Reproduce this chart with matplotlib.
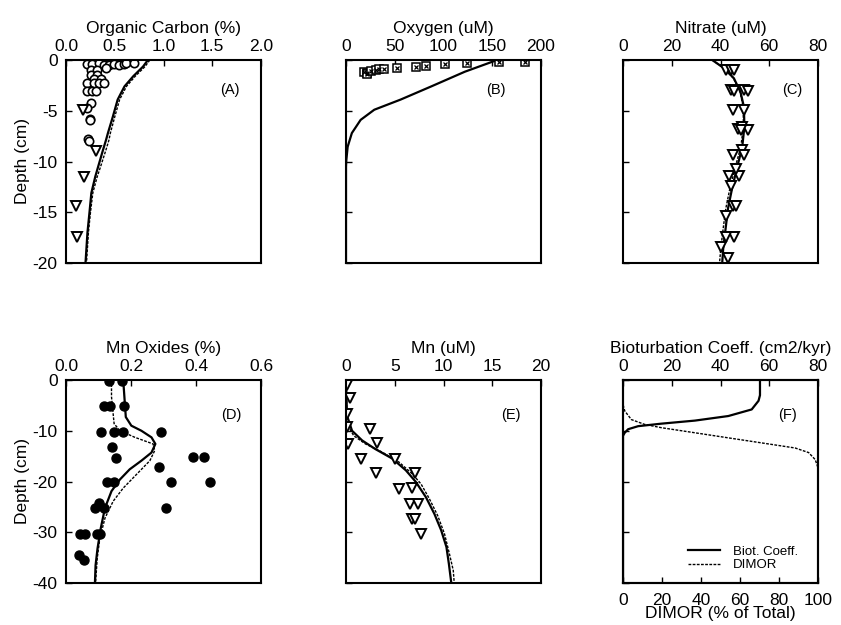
import matplotlib
matplotlib.use("Agg")
import matplotlib.pyplot as plt
import numpy as np

plt.rcParams['font.family'] = ['Liberation Sans', 'DejaVu Sans']
plt.rcParams['axes.unicode_minus'] = False

# ---------------- Data ----------------
# (A) Organic carbon (%)
oc_circ_x = [0.22, 0.27, 0.34, 0.39, 0.44, 0.49, 0.54, 0.59, 0.62, 0.70,
             0.255, 0.32, 0.41, 0.255, 0.32, 0.29, 0.36, 0.22, 0.29, 0.34, 0.39,
             0.22, 0.27, 0.31, 0.255, 0.22, 0.245, 0.245, 0.23, 0.24]
oc_circ_y = [-0.4, -0.4, -0.3, -0.46, -0.46, -0.4, -0.46, -0.4, -0.3, -0.3,
             -0.95, -0.95, -0.8, -1.45, -1.45, -1.9, -1.9, -2.25, -2.25, -2.25, -2.25,
             -3.1, -3.1, -3.1, -4.2, -4.7, -5.8, -5.95, -7.8, -8.0]
oc_tri_x = [0.17, 0.31, 0.18, 0.10, 0.115]
oc_tri_y = [-4.9, -9.0, -11.5, -14.4, -17.4]
oc_sol_x = [0.84, 0.79, 0.69, 0.60, 0.53, 0.48, 0.43, 0.41, 0.38, 0.33, 0.30, 0.26, 0.24, 0.22, 0.20]
oc_sol_y = [0.0, -0.65, -1.6, -2.6, -3.9, -5.6, -7.2, -7.9, -8.85, -10.5, -11.5, -13.1, -15.1, -17.0, -20.0]
oc_das_x = [0.86, 0.81, 0.71, 0.62, 0.55, 0.50, 0.455, 0.44, 0.41, 0.355, 0.32, 0.275, 0.25, 0.23, 0.21]
oc_das_y = oc_sol_y

# (B) Oxygen (uM)
ox_pts_x = [18, 22, 22, 25.3, 30.4, 34, 39, 52, 72, 82, 102, 124, 157, 184]
ox_pts_y = [-1.15, -1.25, -1.4, -1.05, -1.0, -0.9, -0.9, -0.8, -0.65, -0.6, -0.4, -0.33, -0.23, -0.16]
ox_line_x = [155, 122, 87.5, 56, 29, 15, 6, 1.7, 0.3, 0.0, 0.0]
ox_line_y = [0.0, -1.15, -2.6, -3.9, -4.9, -5.9, -7.2, -8.55, -9.9, -10.5, -20.0]

# (C) Nitrate (uM)
no3_pts_x = [42.2, 44.3, 45.6, 44.3, 45.6, 49.7, 51.1, 45.0, 49.7, 47.0, 49.0, 51.1, 48.4,
             45.0, 49.0, 49.7, 43.6, 47.7, 46.3, 44.3, 45.0, 46.3, 42.2, 45.6, 42.2, 40.2, 42.9]
no3_pts_y = [-0.96, -0.96, -0.96, -2.95, -3.1, -2.95, -3.1, -4.95, -4.95, -6.8, -6.6, -6.9, -6.9,
             -9.4, -8.9, -9.4, -11.4, -11.4, -10.75, -12.4, -14.4, -14.4, -15.4, -17.4, -17.4, -18.4, -19.5]
no3_sol_x = [36.6, 41.4, 45.5, 48.2, 49.6, 49.8, 48.9, 46.8, 44.8, 43.1, 42.1, 41.1, 40.7]
no3_sol_y = [0.0, -0.8, -1.8, -3.15, -4.6, -6.6, -8.6, -10.6, -12.6, -14.6, -16.6, -18.6, -20.0]
no3_das_x = [36.6, 41.3, 45.3, 48.0, 49.3, 49.4, 48.3, 46.0, 43.9, 42.2, 41.1, 40.1, 39.6]
no3_das_y = no3_sol_y

# (D) Mn oxides (%)
mno_pts_x = [0.133, 0.173, 0.118, 0.135, 0.179, 0.107, 0.148, 0.176, 0.291, 0.143, 0.155,
             0.392, 0.424, 0.287, 0.125, 0.148, 0.322, 0.442, 0.101, 0.089, 0.118, 0.309,
             0.043, 0.058, 0.094, 0.104, 0.041, 0.056]
mno_pts_y = [-0.1, -0.1, -5.2, -5.2, -5.2, -10.3, -10.3, -10.3, -10.2, -13.3, -15.3,
             -15.2, -15.2, -17.1, -20.1, -20.1, -20.1, -20.1, -24.3, -25.2, -25.2, -25.2,
             -30.4, -30.4, -30.4, -30.4, -34.4, -35.4]
mno_sol_x = [0.176, 0.179, 0.184, 0.201, 0.232, 0.263, 0.275, 0.263, 0.232, 0.196, 0.166,
             0.140, 0.120, 0.107, 0.097, 0.091, 0.089]
mno_sol_y = [0.0, -2.7, -7.3, -9.0, -10.0, -11.3, -12.6, -14.3, -15.9, -17.6, -19.6,
             -21.9, -25.2, -29.2, -33.2, -36.5, -40.0]
mno_das_x = [0.140, 0.140, 0.148, 0.166, 0.212, 0.268, 0.273, 0.258, 0.217, 0.176, 0.145,
             0.120, 0.104, 0.096, 0.091]
mno_das_y = [0.0, -3.3, -8.6, -10.0, -11.3, -12.6, -13.9, -15.9, -18.6, -21.3, -23.9,
             -27.2, -31.2, -35.2, -40.0]

# (E) Mn (uM)
mn_pts_x = [0.1, 0.38, 0.1, 0.1, 0.17, 2.45, 3.2, 1.5, 5.0, 3.1, 7.07, 5.45, 6.76, 6.6, 7.4, 6.76, 7.1, 7.72]
mn_pts_y = [-0.9, -3.6, -6.7, -9.2, -12.7, -9.6, -12.5, -15.5, -15.5, -18.4, -18.4, -21.4, -21.3,
            -24.4, -24.4, -27.3, -27.3, -30.3]
mn_sol_x = [0.0, 0.1, 0.62, 1.65, 3.0, 4.76, 6.14, 7.17, 8.2, 9.07, 9.76, 10.3, 10.55, 10.8]
mn_sol_y = [0.0, -7.0, -10.0, -11.9, -13.6, -15.5, -17.8, -20.1, -23.1, -26.4, -29.6, -32.9, -36.2, -40.0]
mn_das_x = [0.0, 0.1, 0.8, 2.0, 3.7, 5.45, 6.8, 7.7, 8.55, 9.4, 10.1, 10.6, 11.0, 11.1]
mn_das_y = [0.0, -8.7, -11.0, -12.6, -14.2, -16.2, -18.5, -20.5, -23.4, -26.7, -30.3, -34.2, -37.5, -40.0]

# (F) Bioturbation coefficient (cm2/kyr) and DIMOR (% of total)
bio_x = [56.2, 56.2, 55.6, 52.8, 43.2, 29.5, 15.8, 6.2, 2.1, 0.7, 0.0, 0.0]
bio_y = [0.0, -3.0, -4.1, -5.8, -7.1, -8.0, -8.6, -9.1, -9.7, -10.4, -11.0, -40.0]
dimor_x = [0.0, 0.0, 0.9, 4.3, 11.1, 19.7, 36.9, 54.0, 71.2, 88.3, 95.2, 98.6, 100.0, 100.0]
dimor_y = [0.0, -4.8, -6.1, -7.8, -8.75, -9.4, -10.4, -11.4, -12.4, -13.4, -14.3, -15.7, -17.3, -40.0]

titles = ["Organic Carbon (%)", "Oxygen (uM)", "Nitrate (uM)",
          "Mn Oxides (%)", "Mn (uM)", "Bioturbation Coeff. (cm2/kyr)"]
panel_labels = ["(A)", "(B)", "(C)", "(D)", "(E)", "(F)"]
xlims = [(0, 2.0), (0, 200), (0, 80), (0, 0.6), (0, 20), (0, 80)]
xticks = [[0.0, 0.5, 1.0, 1.5, 2.0], [0, 50, 100, 150, 200], [0, 20, 40, 60, 80],
          [0.0, 0.2, 0.4, 0.6], [0, 5, 10, 15, 20], [0, 20, 40, 60, 80]]
xticklabels = [["0.0", "0.5", "1.0", "1.5", "2.0"], ["0", "50", "100", "150", "200"],
               ["0", "20", "40", "60", "80"], ["0.0", "0.2", "0.4", "0.6"],
               ["0", "5", "10", "15", "20"], ["0", "20", "40", "60", "80"]]
dimor_ticks = [0, 20, 40, 60, 80, 100]
top_yticks = [0, -5, -10, -15, -20]
bot_yticks = [0, -10, -20, -30, -40]

# ---------------- Figure ----------------
W, H = 841, 625
fig = plt.figure(figsize=(W / 100, H / 100), dpi=100)
lefts = [66, 346, 623]
tops = [60, 380]
aw, ah = 195, 203
axes = []
for r in range(2):
    for c in range(3):
        ax = fig.add_axes([lefts[c] / W, 1 - (tops[r] + ah) / H, aw / W, ah / H])
        axes.append(ax)

FS = 12.5
sol_kw = dict(color='black', lw=1.6)
das_kw = dict(color='black', lw=1.0, ls=(0, (2, 1)))
circ_kw = dict(ls='none', marker='o', ms=6, mfc='white', mec='black', mew=1.2)
tri_kw = dict(ls='none', marker='v', ms=6.5, mfc='white', mec='black', mew=1.4)


def style_top(ax, i):
    ax.xaxis.tick_top()
    ax.xaxis.set_label_position('top')
    ax.set_xticks(xticks[i])
    ax.set_xticklabels(xticklabels[i])
    ax.tick_params(direction='in', top=True, bottom=False, left=True, right=False,
                   labelsize=FS, length=4, width=1)
    ax.tick_params(axis='x', pad=4)
    ax.tick_params(axis='y', pad=6)
    ax.set_xlabel(titles[i], fontsize=FS, labelpad=5)


for i, ax in enumerate(axes):
    ax.set_xlim(*xlims[i])
    ax.set_ylim(-20, 0) if i < 3 else ax.set_ylim(-40, 0)
    ax.set_yticks(top_yticks if i < 3 else bot_yticks)
    style_top(ax, i)
    if i not in (0, 3):
        ax.set_yticklabels([])
    else:
        ax.set_ylabel("Depth (cm)", fontsize=FS, labelpad=2)
    for s in ax.spines.values():
        s.set_linewidth(1.5)
    ly = 0.85 if i < 3 else 0.83
    lx = [0.84, 0.77, 0.87, 0.85, 0.845, 0.845][i]
    ax.text(lx, ly, panel_labels[i], transform=ax.transAxes, fontsize=10.5,
            ha='center', va='center')

# (A)
a = axes[0]
a.plot(oc_sol_x, oc_sol_y, **sol_kw)
a.plot(oc_das_x, oc_das_y, **das_kw)
a.plot(oc_circ_x, oc_circ_y, **circ_kw)
a.plot(oc_tri_x, oc_tri_y, **tri_kw)

# (B)
b = axes[1]
b.plot(ox_line_x, ox_line_y, **sol_kw)
b.plot(ox_pts_x, ox_pts_y, ls='none', marker='s', ms=6, mfc='white', mec='black', mew=1.1)
b.plot(ox_pts_x, ox_pts_y, ls='none', marker='x', ms=3.5, color='black', mew=0.9)

# (C)
c = axes[2]
c.plot(no3_sol_x, no3_sol_y, **sol_kw)
c.plot(no3_das_x, no3_das_y, **das_kw)
c.plot(no3_pts_x, no3_pts_y, **tri_kw)

# (D)
d = axes[3]
d.plot(mno_sol_x, mno_sol_y, **sol_kw)
d.plot(mno_das_x, mno_das_y, **das_kw)
d.plot(mno_pts_x, mno_pts_y, ls='none', marker='o', ms=6.5, color='black')

# (E)
e = axes[4]
e.plot(mn_sol_x, mn_sol_y, **sol_kw)
e.plot(mn_das_x, mn_das_y, **das_kw)
e.plot(mn_pts_x, mn_pts_y, **tri_kw)

# (F)
f = axes[5]
hb, = f.plot(bio_x, bio_y, **sol_kw)
f2 = f.twiny()
style_top(f, 5)
f2.set_xlim(0, 100)
f2.xaxis.tick_bottom()
f2.xaxis.set_label_position('bottom')
f2.set_xticks(dimor_ticks)
f2.tick_params(direction='in', top=False, bottom=True, labelsize=FS, length=4, width=1, pad=7)
f2.set_xlabel("DIMOR (% of Total)", fontsize=FS, labelpad=-1)
hd, = f2.plot(dimor_x, dimor_y, **das_kw)
f2.set_ylim(-40, 0)
for s in f2.spines.values():
    s.set_linewidth(1.5)
f2.legend([hb, hd], ["Biot. Coeff.", "DIMOR"], loc='lower right',
          bbox_to_anchor=(0.96, 0.0), frameon=False, fontsize=9.5,
          handlelength=2.4, handletextpad=1.0, labelspacing=0.1)

fig.savefig("out.png", dpi=100)
